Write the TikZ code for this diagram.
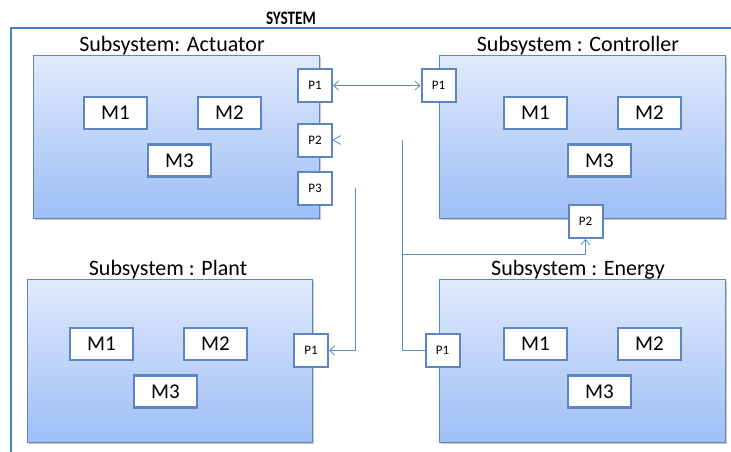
\documentclass[tikz,border=0pt]{standalone}
\usepackage{fontspec}
\setmainfont{Carlito}
\usetikzlibrary{arrows.meta,shadows}
\definecolor{frameblue}{HTML}{4F81BD}
\definecolor{boxtop}{HTML}{E0EAFB}
\definecolor{boxbottom}{HTML}{9EBEF6}
\definecolor{edgeblue}{HTML}{5B86C2}
\definecolor{wireblue}{HTML}{5F8CC6}
\tikzset{
  subsys/.style={draw=edgeblue, line width=0.9pt, top color=boxtop, bottom color=boxbottom,
    minimum width=#1, minimum height=163, inner sep=0pt,
    drop shadow={shadow xshift=1.5pt, shadow yshift=-1.5pt, opacity=0.35, fill=black!60}},
  module/.style={draw=edgeblue, line width=2.2pt, fill=white, minimum width=63, minimum height=32,
    inner sep=0pt, font=\fontsize{21}{21}\selectfont},
  port/.style={draw=edgeblue, line width=2pt, fill=white, minimum width=34, minimum height=33,
    inner sep=0pt, font=\fontsize{13}{13}\selectfont},
  title/.style={font=\fontsize{22}{22}\selectfont, inner sep=0pt},
  wire/.style={draw=wireblue, line width=0.8pt},
  tip/.style={-{Straight Barb[length=5pt,width=9pt,line width=0.8pt]}},
}
\begin{document}
\begin{tikzpicture}[x=1pt,y=-1pt]
\useasboundingbox (0,0) rectangle (731,451);
% outer system frame
\begin{scope}
\clip (0,0) rectangle (731,451);
\draw[frameblue, line width=2.2pt] (11,460) -- (11,28) -- (740,28);
\end{scope}
\node[font=\bfseries\fontsize{19}{19}\selectfont, inner sep=0pt] (systitle) at (291,18)
  {\scalebox{0.8}[1]{SYSTEM}};

% subsystem blocks
\node[subsys=286] (act) at (176,136.5) {};
\node[subsys=286] (ctl) at (582,136.5) {};
\node[subsys=285] (plant) at (169.5,361) {};
\node[subsys=286] (energy) at (582,361) {};

\node[title] (actT) at (172,46) {Subsystem: Actuator};
\node[title] (ctlT) at (578,45.5) {Subsystem : Controller};
\node[title] (plantT) at (168,269.5) {Subsystem : Plant};
\node[title] (energyT) at (578,269.5) {Subsystem : Energy};

% modules
\foreach \b/\x/\y in {a/0/0, c/420/0, p/-14/231, e/420/231} {
  \node[module] (\b M1) at (115.5+\x,113+\y) {M1};
  \node[module] (\b M2) at (229.5+\x,113+\y) {M2};
  \node[module] (\b M3) at (179.5+\x,160.5+\y) {M3};
}

% ports
\node[port] (aP1) at (315,85.5) {P1};
\node[port] (aP2) at (315,140) {P2};
\node[port] (aP3) at (315,188) {P3};
\node[port] (cP1) at (438.5,85.5) {P1};
\node[port] (cP2) at (585.5,221.5) {P2};
\node[port] (pP1) at (311,350.5) {P1};
\node[port] (eP1) at (442.5,350.5) {P1};

% connectors
\coordinate (busTop) at (402,140);
\coordinate (busMid) at (402,254);
\coordinate (busLow) at (402,350.5);
\coordinate (p3Top) at (355,188);
\coordinate (p3Low) at (355,350.5);

\draw[wire, {Straight Barb[length=5pt,width=9pt,line width=0.8pt]}-{Straight Barb[length=5pt,width=9pt,line width=0.8pt]}] (aP1.east) -- (cP1.west);
\draw[wire] ([xshift=8pt,yshift=4.5pt]aP2.east) -- (aP2.east) -- ([xshift=8pt,yshift=-4.5pt]aP2.east);
\draw[wire] (busTop) -- (busLow) -- (eP1.west);
\draw[wire, tip] (busMid) -| (cP2.south);
\draw[wire, tip] (p3Top) -- (p3Low) -- (pP1.east);
\end{tikzpicture}
\end{document}
